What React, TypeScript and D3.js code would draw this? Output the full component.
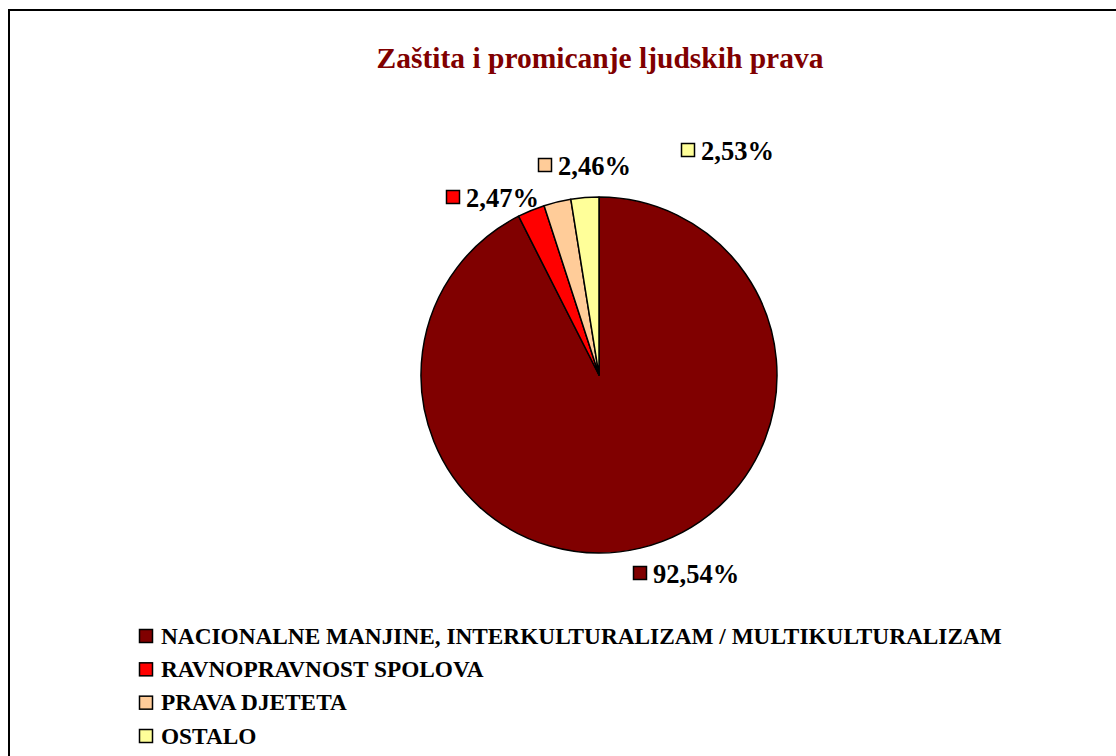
import { useRef, useEffect } from 'react';
import * as d3 from 'd3';

const categories = [
  'NACIONALNE MANJINE, INTERKULTURALIZAM / MULTIKULTURALIZAM',
  'RAVNOPRAVNOST SPOLOVA',
  'PRAVA DJETETA',
  'OSTALO',
];
const values = [92.54, 2.47, 2.46, 2.53];
const labels = ['92,54%', '2,47%', '2,46%', '2,53%'];
const colors = ['#800000', '#FF0000', '#FFCC99', '#FFFF99'];
const title = 'Zaštita i promicanje ljudskih prava';

export default function App() {
  const svgRef = useRef<SVGSVGElement | null>(null);

  useEffect(() => {
    if (!svgRef.current) return;
    const svg = d3.select(svgRef.current);
    svg.selectAll('*').remove();

    const font = '"Liberation Serif", "Times New Roman", serif';

    // Outer frame (runs past right and bottom of the window)
    svg.append('rect')
      .attr('x', 9)
      .attr('y', 10)
      .attr('width', 1200)
      .attr('height', 900)
      .attr('fill', '#fff')
      .attr('stroke', '#000')
      .attr('stroke-width', 2);

    svg.append('text')
      .attr('x', 600)
      .attr('y', 68)
      .attr('text-anchor', 'middle')
      .attr('font-family', font)
      .attr('font-weight', 'bold')
      .attr('font-size', 29.5)
      .attr('fill', '#800000')
      .text(title);

    const cx = 599, cy = 375, r = 178;
    const pie = d3.pie<number>().sort(null).value(d => d);
    const arcs = pie(values);
    const arc = d3.arc<d3.PieArcDatum<number>>().innerRadius(0).outerRadius(r);

    const g = svg.append('g').attr('transform', `translate(${cx},${cy})`);
    g.selectAll('path')
      .data(arcs)
      .enter()
      .append('path')
      .attr('d', arc)
      .attr('fill', (_, i) => colors[i])
      .attr('stroke', '#000')
      .attr('stroke-width', 1.5)
      .attr('stroke-linejoin', 'round');

    // Data labels: key square + percentage, placed outside the slices
    const labelPos: [number, number][] = [
      [633, 583],
      [446, 207],
      [538, 175],
      [681, 160],
    ];
    labelPos.forEach(([x, y], i) => {
      svg.append('rect')
        .attr('x', x + 0.5)
        .attr('y', y - 16.5)
        .attr('width', 13)
        .attr('height', 13)
        .attr('fill', colors[i])
        .attr('stroke', '#000')
        .attr('stroke-width', 1.5);
      svg.append('text')
        .attr('x', x + 20)
        .attr('y', y)
        .attr('font-family', font)
        .attr('font-weight', 'bold')
        .attr('font-size', 26.5)
        .attr('fill', '#000')
        .text(labels[i]);
    });

    // Legend
    const legendY = d3.scalePoint<string>()
      .domain(categories)
      .range([636, 736]);
    const legend = svg.append('g');
    categories.forEach((c, i) => {
      const y = legendY(c) as number;
      legend.append('rect')
        .attr('x', 139.5)
        .attr('y', y - 6.5)
        .attr('width', 13)
        .attr('height', 13)
        .attr('fill', colors[i])
        .attr('stroke', '#000')
        .attr('stroke-width', 1.5);
      legend.append('text')
        .attr('x', 161)
        .attr('y', y + 7.5)
        .attr('font-family', font)
        .attr('font-weight', 'bold')
        .attr('font-size', 23.3)
        .attr('fill', '#000')
        .text(c);
    });
  }, []);

  return (
    <svg
      ref={svgRef}
      width={1116}
      height={756}
      style={{ position: 'absolute', left: 0, top: 0, display: 'block' }}
    />
  );
}
